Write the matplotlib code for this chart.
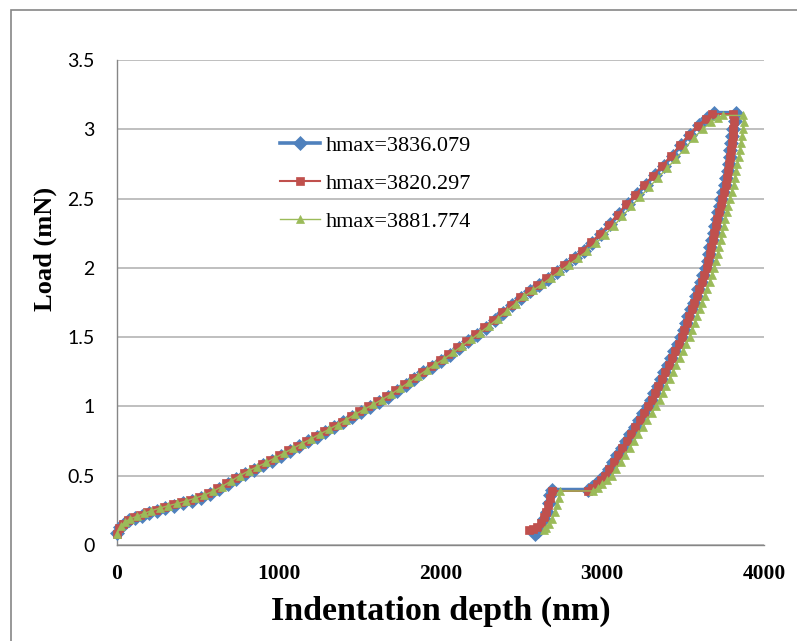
import matplotlib
matplotlib.use("Agg")
import matplotlib.pyplot as plt
from matplotlib.patches import Rectangle

# ---------------- data (depth in nm, load in mN) ----------------
series_labels = ["hmax=3836.079", "hmax=3820.297", "hmax=3881.774"]

# --- blue series (hmax=3836.079) ---
blue_load_depth = [0, 20, 45, 78, 115, 155, 200, 250, 300, 355, 410, 465, 520, 575, 630, 685,
                   740, 795, 850, 905, 960, 1015, 1070, 1125, 1180, 1235, 1290, 1345, 1400,
                   1455, 1510, 1565, 1620, 1675, 1730, 1785, 1840, 1895, 1950, 2005, 2060,
                   2115, 2170, 2225, 2280, 2335, 2390, 2445, 2500, 2555, 2610, 2665, 2720,
                   2775, 2830, 2885, 2940, 2995, 3050, 3105, 3160, 3215, 3270, 3325, 3380,
                   3435, 3490, 3545, 3600, 3650, 3693]
blue_load_load = [0.09, 0.13, 0.155, 0.178, 0.195, 0.21, 0.23, 0.248, 0.265, 0.284, 0.301,
                  0.32, 0.342, 0.37, 0.402, 0.438, 0.479, 0.514, 0.543, 0.576, 0.609, 0.644,
                  0.678, 0.712, 0.747, 0.781, 0.815, 0.85, 0.885, 0.925, 0.963, 0.997, 1.032,
                  1.071, 1.113, 1.155, 1.2, 1.246, 1.288, 1.329, 1.374, 1.422, 1.47, 1.518,
                  1.567, 1.622, 1.677, 1.732, 1.786, 1.832, 1.875, 1.923, 1.971, 2.02, 2.068,
                  2.123, 2.182, 2.244, 2.313, 2.386, 2.462, 2.531, 2.6, 2.668, 2.737, 2.81,
                  2.887, 2.962, 3.03, 3.08, 3.12]
blue_unload_depth = [3828, 3820, 3810, 3803, 3797, 3792, 3787, 3781, 3775, 3768, 3759, 3747,
                     3736, 3727, 3717, 3707, 3698, 3688, 3679, 3669, 3660, 3651, 3641, 3626,
                     3611, 3595, 3580, 3565, 3549, 3533, 3518, 3503, 3487, 3467, 3446, 3425,
                     3405, 3385, 3364, 3343, 3323, 3302, 3281, 3254, 3227, 3200, 3173, 3147,
                     3120, 3093, 3066, 3040, 3013, 2986, 2960, 2935, 2912]
blue_unload_load = [3.12, 3.06, 3.00, 2.95, 2.90, 2.85, 2.80, 2.75, 2.70, 2.65, 2.60, 2.55,
                    2.50, 2.45, 2.40, 2.35, 2.30, 2.25, 2.20, 2.15, 2.10, 2.05, 2.00, 1.95,
                    1.90, 1.85, 1.80, 1.75, 1.70, 1.65, 1.60, 1.55, 1.50, 1.45, 1.40, 1.35,
                    1.30, 1.25, 1.20, 1.15, 1.10, 1.05, 1.00, 0.95, 0.90, 0.85, 0.80, 0.75,
                    0.70, 0.65, 0.60, 0.55, 0.50, 0.47, 0.44, 0.42, 0.40]
blue_tail_depth = [2688, 2680, 2670, 2656, 2640, 2622, 2603, 2585]
blue_tail_load = [0.40, 0.36, 0.30, 0.24, 0.19, 0.14, 0.10, 0.08]

# --- red series (hmax=3820.297) ---
red_load_depth = [0, 15, 40, 70, 105, 145, 190, 240, 290, 345, 400, 455, 510, 565, 620, 675,
                  730, 785, 840, 895, 950, 1005, 1060, 1115, 1170, 1225, 1280, 1335, 1390,
                  1445, 1500, 1555, 1610, 1665, 1720, 1775, 1830, 1885, 1940, 1995, 2050,
                  2105, 2160, 2215, 2270, 2325, 2380, 2435, 2490, 2545, 2600, 2655, 2710,
                  2765, 2820, 2875, 2930, 2985, 3040, 3095, 3150, 3205, 3260, 3315, 3370,
                  3425, 3480, 3535, 3590, 3640, 3680]
red_load_load = [0.08, 0.12, 0.155, 0.18, 0.20, 0.218, 0.237, 0.256, 0.274, 0.293, 0.31,
                 0.328, 0.35, 0.377, 0.408, 0.444, 0.485, 0.52, 0.55, 0.582, 0.615, 0.65,
                 0.684, 0.718, 0.753, 0.787, 0.821, 0.856, 0.89, 0.931, 0.969, 1.003, 1.038,
                 1.076, 1.118, 1.159, 1.205, 1.251, 1.293, 1.334, 1.378, 1.426, 1.474, 1.522,
                 1.57, 1.625, 1.68, 1.735, 1.79, 1.836, 1.879, 1.927, 1.975, 2.023, 2.071,
                 2.125, 2.183, 2.244, 2.312, 2.384, 2.46, 2.529, 2.598, 2.666, 2.735, 2.808,
                 2.884, 2.959, 3.026, 3.074, 3.11]
red_unload_depth = [3807, 3812, 3810, 3806, 3802, 3797, 3792, 3786, 3780, 3773, 3764, 3752,
                    3741, 3732, 3722, 3712, 3703, 3693, 3684, 3674, 3665, 3656, 3646, 3631,
                    3616, 3600, 3585, 3570, 3554, 3538, 3523, 3508, 3492, 3472, 3451, 3430,
                    3410, 3390, 3369, 3348, 3328, 3307, 3286, 3259, 3232, 3205, 3178, 3152,
                    3125, 3098, 3071, 3045, 3018, 2990, 2965, 2938, 2915]
red_unload_load = [3.11, 3.06, 3.00, 2.95, 2.90, 2.85, 2.80, 2.75, 2.70, 2.65, 2.60, 2.55,
                   2.50, 2.45, 2.40, 2.35, 2.30, 2.25, 2.20, 2.15, 2.10, 2.05, 2.00, 1.95,
                   1.90, 1.85, 1.80, 1.75, 1.70, 1.65, 1.60, 1.55, 1.50, 1.45, 1.40, 1.35,
                   1.30, 1.25, 1.20, 1.15, 1.10, 1.05, 1.00, 0.95, 0.90, 0.85, 0.80, 0.75,
                   0.70, 0.65, 0.60, 0.55, 0.50, 0.47, 0.44, 0.41, 0.39]
red_tail_depth = [2688, 2680, 2668, 2655, 2640, 2622, 2600, 2575, 2545]
red_tail_load = [0.39, 0.34, 0.29, 0.24, 0.20, 0.16, 0.13, 0.115, 0.11]

# --- green series (hmax=3881.774) ---
green_load_depth = [0, 25, 50, 85, 125, 170, 215, 265, 320, 375, 430, 485, 540, 595, 650,
                    705, 760, 815, 870, 925, 980, 1035, 1090, 1145, 1200, 1255, 1310, 1365,
                    1420, 1475, 1530, 1585, 1640, 1695, 1750, 1805, 1860, 1915, 1970, 2025,
                    2080, 2135, 2190, 2245, 2300, 2355, 2410, 2465, 2520, 2575, 2630, 2685,
                    2740, 2795, 2850, 2905, 2960, 3015, 3070, 3125, 3180, 3235, 3290, 3345,
                    3400, 3455, 3510, 3565, 3620, 3670, 3715, 3747]
green_load_load = [0.08, 0.135, 0.165, 0.19, 0.207, 0.228, 0.248, 0.266, 0.284, 0.30, 0.318,
                   0.338, 0.36, 0.388, 0.422, 0.46, 0.50, 0.535, 0.565, 0.596, 0.63, 0.664,
                   0.698, 0.732, 0.765, 0.80, 0.834, 0.868, 0.905, 0.944, 0.98, 1.014, 1.05,
                   1.088, 1.13, 1.173, 1.218, 1.263, 1.304, 1.345, 1.39, 1.437, 1.485, 1.532,
                   1.58, 1.633, 1.688, 1.742, 1.795, 1.84, 1.882, 1.93, 1.976, 2.024, 2.07,
                   2.12, 2.176, 2.236, 2.301, 2.372, 2.445, 2.514, 2.582, 2.65, 2.718, 2.787,
                   2.86, 2.936, 3.0, 3.05, 3.085, 3.10]
green_unload_depth = [3869, 3874, 3870, 3864, 3858, 3851, 3844, 3836, 3829, 3821, 3812, 3800,
                      3789, 3780, 3770, 3760, 3751, 3741, 3732, 3722, 3713, 3704, 3694, 3679,
                      3664, 3648, 3633, 3618, 3602, 3586, 3571, 3556, 3540, 3520, 3499, 3478,
                      3458, 3438, 3417, 3396, 3376, 3355, 3334, 3306, 3279, 3251, 3224, 3197,
                      3170, 3142, 3115, 3087, 3060, 3030, 3002, 2972, 2945]
green_unload_load = [3.10, 3.05, 3.00, 2.95, 2.90, 2.85, 2.80, 2.75, 2.70, 2.65, 2.60, 2.55,
                     2.50, 2.45, 2.40, 2.35, 2.30, 2.25, 2.20, 2.15, 2.10, 2.05, 2.00, 1.95,
                     1.90, 1.85, 1.80, 1.75, 1.70, 1.65, 1.60, 1.55, 1.50, 1.45, 1.40, 1.35,
                     1.30, 1.25, 1.20, 1.15, 1.10, 1.05, 1.00, 0.95, 0.90, 0.85, 0.80, 0.75,
                     0.70, 0.65, 0.60, 0.55, 0.50, 0.47, 0.44, 0.41, 0.39]
green_tail_depth = [2740, 2732, 2721, 2708, 2692, 2674, 2655, 2640]
green_tail_load = [0.39, 0.34, 0.29, 0.24, 0.19, 0.15, 0.12, 0.11]

x_ticks = [0, 1000, 2000, 3000, 4000]
y_ticks = [0, 0.5, 1, 1.5, 2, 2.5, 3, 3.5]
y_tick_labels = ["0", "0.5", "1", "1.5", "2", "2.5", "3", "3.5"]

# ---------------- figure ----------------
W, H = 797, 641
fig = plt.figure(figsize=(W / 100, H / 100), dpi=100)
fig.patch.set_facecolor("white")

fig.patches.append(Rectangle((11 / W, -0.05), 1.2, 1 - 10 / H + 0.05,
                             transform=fig.transFigure, fill=False,
                             edgecolor="#868686", linewidth=1.2))

ax = fig.add_axes([116.7 / W, 1 - 545 / H, (764 - 116.7) / W, (545 - 60) / H])
ax.set_xlim(0, 4000)
ax.set_ylim(0, 3.5)

serif = "Liberation Serif"

styles = [
    dict(color="#4F81BD", lw=2.6, marker="D", ms=7.4, zorder=3),
    dict(color="#C0504D", lw=1.5, marker="s", ms=5.9, zorder=4),
    dict(color="#9BBB59", lw=1.0, marker="^", ms=6.3, zorder=5),
]
all_series = [
    (blue_load_depth + blue_unload_depth + blue_tail_depth,
     blue_load_load + blue_unload_load + blue_tail_load),
    (red_load_depth + red_unload_depth + red_tail_depth,
     red_load_load + red_unload_load + red_tail_load),
    (green_load_depth + green_unload_depth + green_tail_depth,
     green_load_load + green_unload_load + green_tail_load),
]
for (xs, ys), st, lab in zip(all_series, styles, series_labels):
    ax.plot(xs, ys, color=st["color"], lw=st["lw"], marker=st["marker"], ms=st["ms"],
            mec=st["color"], mfc=st["color"], mew=0.5, label=lab, clip_on=False,
            zorder=st["zorder"])

ax.set_xticks(x_ticks)
ax.set_xticklabels([str(v) for v in x_ticks], fontfamily=serif, fontweight="bold",
                   fontsize=15.5)
ax.set_yticks(y_ticks)
ax.set_yticklabels(y_tick_labels, fontfamily="Lato", fontsize=14)
ax.tick_params(axis="both", length=0)
ax.tick_params(axis="y", pad=16)
ax.tick_params(axis="x", pad=14)

ax.grid(axis="y", color="#B4B4B4", linewidth=1.2)
ax.set_axisbelow(True)
for s in ["top", "right"]:
    ax.spines[s].set_visible(False)
for s in ["left", "bottom"]:
    ax.spines[s].set_color("#868686")
    ax.spines[s].set_linewidth(1.0)

ax.set_xlabel("Indentation depth (nm)", fontfamily=serif, fontweight="bold", fontsize=24.5)
ax.xaxis.set_label_coords(0.5, -0.104)
ax.set_ylabel("Load (mN)", fontfamily=serif, fontweight="bold", fontsize=19)
ax.yaxis.set_label_coords(-0.092, 0.61)

leg = ax.legend(loc="upper left", bbox_to_anchor=(280 / W, 1 - 135 / H),
                bbox_transform=fig.transFigure, frameon=False,
                prop={"family": serif, "size": 16}, handlelength=1.8,
                handletextpad=0.25, labelspacing=0.8, borderpad=0, borderaxespad=0,
                numpoints=1)

fig.savefig("out.png", dpi=100, facecolor="white")
